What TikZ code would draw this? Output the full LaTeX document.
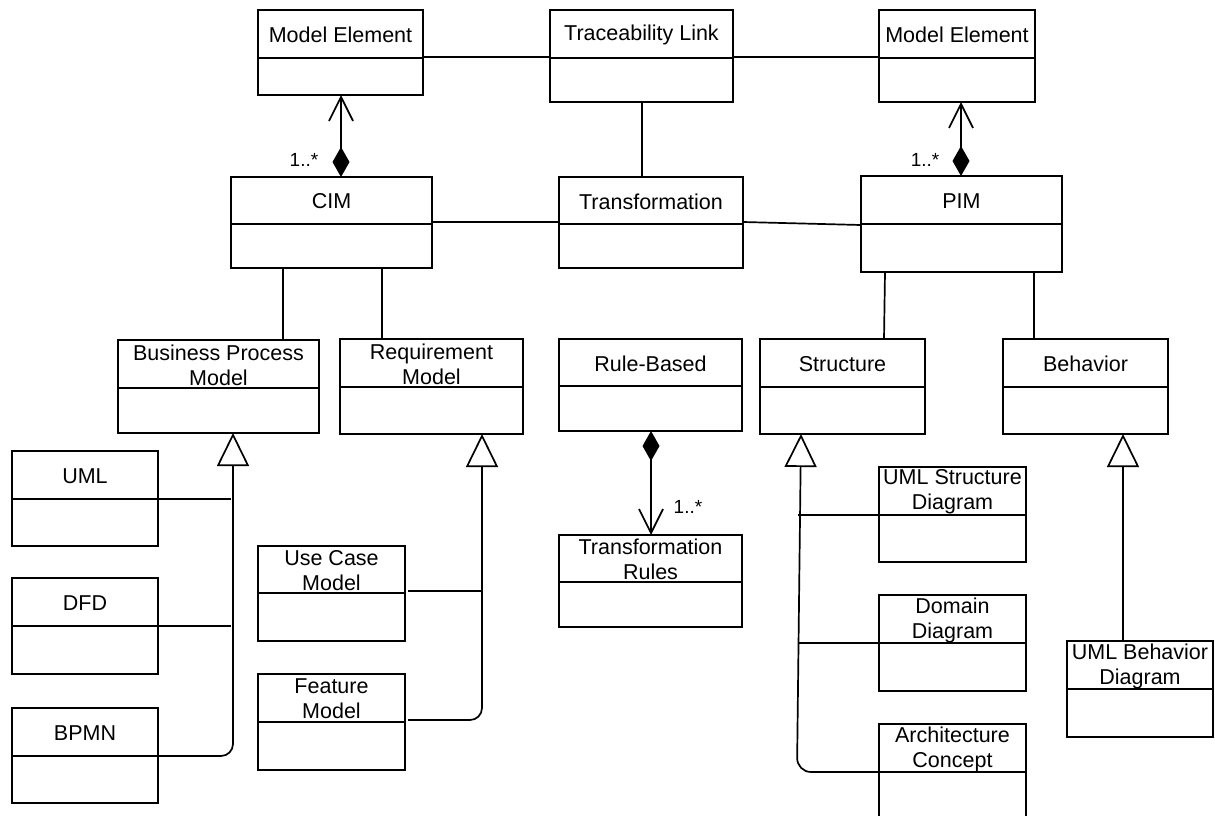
\documentclass[tikz,border=0pt]{standalone}
\usepackage{fontspec}
\setmainfont{Liberation Sans}
\usetikzlibrary{arrows.meta}

\tikzset{
  clsbox/.style={draw, line width=1.7pt, outer sep=0pt, inner sep=0pt, fill=white},
  clstitle/.style={inner sep=0pt, align=center, font=\fontsize{21.5}{25}\selectfont},
  mult/.style={inner sep=0pt, font=\fontsize{19}{22}\selectfont},
  link/.style={line width=1.7pt},
  comp/.style={line width=1.7pt, {Diamond[length=30pt,width=17pt]}-{Straight Barb[length=24pt,width=24pt]}},
  gen/.style={line width=1.7pt, -{Triangle[length=33pt,width=32pt,fill=white]}}
}

% UML class: name, left, top, right, divider, bottom, title
\newcommand{\umlclass}[7]{%
  \node[clsbox, anchor=north west, minimum width={(#4)-(#2)}, minimum height={(#6)-(#3)}] (#1) at (#2,#3) {};
  \draw[link] (#2,#5) -- (#4,#5);
  \node[clstitle] (#1-t) at ({((#2)+(#4))/2},{((#3)+(#5))/2+1}) {#7};
}

\begin{document}
\begin{tikzpicture}[x=1pt,y=-1pt]
\useasboundingbox (0,0) rectangle (1215,816);
\clip (0,0) rectangle (1215,816);

% top row
\umlclass{me1}{258}{10}{423}{58}{95}{Model Element}
\umlclass{tl}{550}{10}{733}{58}{102}{Traceability Link}
\umlclass{me2}{879}{10}{1035}{58}{102}{Model Element}

% model levels
\umlclass{cim}{231}{177}{432}{224}{268}{CIM}
\umlclass{tf}{559}{177}{743}{224}{268}{Transformation}
\umlclass{pim}{861}{176}{1062}{224}{272}{PIM}

% second level
\umlclass{bpm}{118}{340}{319}{388}{433}{Business Process\\Model}
\umlclass{req}{340}{339}{523}{387}{434}{Requirement\\Model}
\umlclass{rb}{559}{339}{742}{386}{431}{Rule-Based}
\umlclass{str}{760}{339}{925}{387}{434}{Structure}
\umlclass{beh}{1003}{339}{1168}{387}{434}{Behavior}

% leaves
\umlclass{uml}{12}{451}{158}{499}{546}{UML}
\umlclass{dfd}{12}{578}{158}{626}{674}{DFD}
\umlclass{bpmn}{12}{708}{158}{756}{803}{BPMN}
\umlclass{uc}{258}{546}{405}{593}{641}{Use Case\\Model}
\umlclass{feat}{258}{674}{405}{722}{770}{Feature\\Model}
\umlclass{trr}{559}{535}{742}{582}{627}{Transformation\\Rules}
\umlclass{usd}{879}{467}{1026}{515}{562}{UML Structure\\Diagram}
\umlclass{dom}{879}{595}{1026}{643}{691}{Domain\\Diagram}
\umlclass{arch}{879}{724}{1026}{772}{860}{Architecture\\Concept}
\umlclass{ubd}{1067}{641}{1213}{689}{737}{UML Behavior\\Diagram}

% associations
\draw[link] (me1.east |- 0,57) -- (tl.west |- 0,57);
\draw[link] (tl.east |- 0,57) -- (me2.west |- 0,57);
\draw[link] (tl.south -| 642,0) -- (tf.north -| 642,0);
\draw[link] (cim.east |- 0,222) -- (tf.west |- 0,222);
\draw[link] (tf.east |- 0,222) -- (pim.west |- 0,225);
\draw[link] (cim.south -| 283,0) -- (bpm.north -| 283,0);
\draw[link] (cim.south -| 382,0) -- (req.north -| 382,0);
\draw[link] (pim.south -| 885,0) -- (str.north -| 884,0);
\draw[link] (pim.south -| 1034,0) -- (beh.north -| 1034,0);

% compositions
\draw[comp] (cim.north -| 341,0) -- (me1.south -| 341,0);
\node[mult] (m1) at (304,160) {1..*};
\draw[comp] (pim.north -| 961,0) -- (me2.south -| 961,0);
\node[mult] (m2) at (925,160) {1..*};
\draw[comp] (rb.south -| 651,0) -- (trr.north -| 651,0);
\node[mult] (m3) at (688,507) {1..*};

% generalizations: business process model
\draw[link] (uml.east |- 0,499) -- ++(73,0);
\draw[link] (dfd.east |- 0,626) -- ++(73,0);
\draw[gen, rounded corners=12pt] (bpmn.east |- 0,756) -- (233,756) -- (bpm.south -| 233,0);

% generalizations: requirement model
\draw[link] (uc.east |- 0,591) ++(3,0) -- ++(74,0);
\draw[gen, rounded corners=12pt] (feat.east |- 0,720) ++(3,0) -- (482,720) -- (req.south -| 482,0);

% generalizations: structure
\draw[link] (usd.west |- 0,515) -- ++(-81,0);
\draw[link] (dom.west |- 0,643) -- ++(-81,0);
\draw[gen, rounded corners=14pt] (arch.west |- 0,772) -- (797,772) -- (str.south -| 801,0);

% generalization: behavior
\draw[gen] (ubd.north -| 1123,0) -- (beh.south -| 1123,0);
\end{tikzpicture}
\end{document}
